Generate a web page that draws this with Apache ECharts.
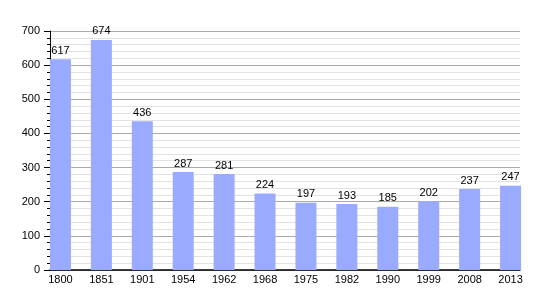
<!DOCTYPE html>
<html>
<head>
<meta charset="utf-8">
<script src="https://cdn.jsdelivr.net/npm/echarts@6/dist/echarts.min.js"></script>
<style>html,body{margin:0;padding:0;background:#fff;}#c{width:550px;height:300px;}</style>
</head>
<body>
<div id="c"></div>
<script>
var years = ['1800','1851','1901','1954','1962','1968','1975','1982','1990','1999','2008','2013'];
var population = [617, 674, 436, 287, 281, 224, 197, 193, 185, 202, 237, 247];
var yTicks = [0, 100, 200, 300, 400, 500, 600, 700];

var font = 'Liberation Sans, Arial, sans-serif';
var chart = echarts.init(document.getElementById('c'), null, {renderer: 'canvas'});
chart.setOption({
  animation: false,
  backgroundColor: '#fff',
  grid: [
    {left: 50, right: 30, top: 31, bottom: 30},
    {left: 40, right: 19, top: 31, bottom: 30}
  ],
  xAxis: [
    {gridIndex: 0, type: 'category', data: years, boundaryGap: true,
     axisLine: {show: true, lineStyle: {color: '#000', width: 1.5}},
     axisTick: {show: false}, axisLabel: {show: false}, splitLine: {show: false}},
    {gridIndex: 1, type: 'category', data: years,
     axisLine: {show: false}, axisTick: {show: false},
     axisLabel: {color: '#000', fontSize: 11, fontFamily: font, margin: 4}}
  ],
  yAxis: [
    {gridIndex: 0, type: 'value', min: yTicks[0], max: yTicks[yTicks.length - 1], interval: 100,
     axisLine: {show: true, lineStyle: {color: '#000', width: 1}},
     axisTick: {show: true, inside: false, length: 6, lineStyle: {color: '#000'}},
     minorTick: {show: true, splitNumber: 5, length: 3, lineStyle: {color: '#000'}},
     axisLabel: {color: '#000', fontSize: 11, fontFamily: font, margin: 10},
     splitLine: {show: true, lineStyle: {color: '#aaa', width: 1}},
     minorSplitLine: {show: true, lineStyle: {color: '#e2e2e2', width: 1}}},
    {gridIndex: 1, type: 'value', min: yTicks[0], max: yTicks[yTicks.length - 1], interval: 100,
     show: false, splitLine: {show: false}}
  ],
  series: [{
    type: 'bar', xAxisIndex: 1, yAxisIndex: 1,
    data: population, barWidth: 21,
    itemStyle: {color: '#99aaff'},
    label: {show: true, position: 'top', distance: 3, color: '#000', fontSize: 11, fontFamily: font}
  }]
});
</script>
</body>
</html>
